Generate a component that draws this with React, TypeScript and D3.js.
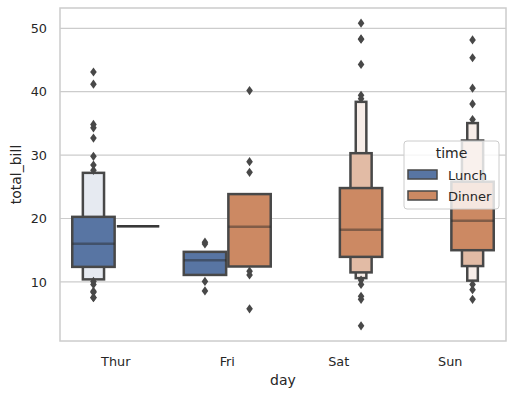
import * as d3 from 'd3';

const days = ["Thur", "Fri", "Sat", "Sun"];
const times = ["Lunch", "Dinner"];
const yTicks = [10, 20, 30, 40, 50];

// one entry per drawn box group
const groupDays = ["Thur", "Thur", "Fri", "Fri", "Sat", "Sun"];
const groupTimes = ["Lunch", "Dinner", "Lunch", "Dinner", "Dinner", "Dinner"];
const groupMedians = [16.0, 18.78, 13.42, 18.7, 18.24, 19.63];
// letter values [lower, upper], innermost (quartiles) first
const groupLevels: number[][][] = [
    [[12.37, 20.26], [10.4, 27.2]],
    [[18.78, 18.78]],
    [[11.1, 14.74]],
    [[12.43, 23.85]],
    [[13.95, 24.8], [11.5, 30.3], [10.6, 38.4]],
    [[15.0, 25.8], [12.5, 32.3], [10.2, 35.05]],
];
const groupOutliers: number[][] = [
    [43.11, 41.19, 34.83, 34.3, 32.68, 29.8, 28.44, 27.6, 10.07, 9.6, 8.52, 8.35, 7.56, 7.51],
    [],
    [16.27, 15.98, 10.07, 8.58],
    [40.17, 28.97, 27.28, 11.7, 11.1, 5.75],
    [50.81, 48.33, 48.27, 44.3, 39.42, 38.9, 10.29, 9.6, 7.74, 7.25, 3.07],
    [48.17, 45.35, 40.55, 38.07, 35.6, 9.6, 8.77, 7.25],
];

const baseColors = ["#5875a3", "#cc8963"];
const gray = "#484848";
const textColor = "#262626";

const App = () => {
    const width = 514, height = 396;
    const left = 60, right = 506, top = 8, bottom = 341;

    const x = d3.scaleBand<string>().domain(days).range([left, right]).padding(0);
    const y = d3.scaleLinear().domain([0.68, 53.2]).range([bottom, top]);
    const hueX = d3.scaleBand<string>().domain(times).range([-0.4, 0.4]);

    const bw = x.bandwidth();
    const boxW = bw * 0.4 * 0.95;

    const groups = groupDays.map((day, i) => {
        const cx = (x(day) as number) + bw / 2 + ((hueX(groupTimes[i]) as number) + hueX.bandwidth() / 2) * bw;
        const base = baseColors[times.indexOf(groupTimes[i])];
        const levels = groupLevels[i];
        const n = levels.length;
        const boxes = levels.map((lv, j) => {
            const t = n > 1 ? 0.85 * j / (n - 1) : 0;
            return {
                x: cx - boxW / Math.pow(2, j) / 2,
                w: boxW / Math.pow(2, j),
                y0: y(lv[1]),
                y1: y(lv[0]),
                fill: d3.interpolateRgb(base, "#ffffff")(t),
            };
        }).reverse();
        return { cx, boxes, median: y(groupMedians[i]), outliers: groupOutliers[i].map(v => y(v)) };
    });

    const diamond = (cx: number, cy: number) =>
        `M${cx},${cy - 4.6}L${cx + 3.3},${cy}L${cx},${cy + 4.6}L${cx - 3.3},${cy}Z`;

    return (
        <svg width={width} height={height} style={{ position: 'absolute', left: 0, top: 0, fontFamily: 'DejaVu Sans' }}>
            <rect x={0} y={0} width={width} height={height} fill="white" />
            {yTicks.map(t => (
                <g key={t}>
                    <line x1={left} x2={right} y1={y(t)} y2={y(t)} stroke="#cccccc" strokeWidth={1.2} />
                    <text x={47} y={y(t)} dy="0.36em" textAnchor="end" fontSize={12.8} fill={textColor}>{t}</text>
                </g>
            ))}
            <rect x={left} y={top} width={right - left} height={bottom - top} fill="none" stroke="#cccccc" strokeWidth={1.5} />
            {days.map(d => (
                <text key={d} x={(x(d) as number) + bw / 2} y={365.5} textAnchor="middle" fontSize={12.8} fill={textColor}>{d}</text>
            ))}
            <text x={(left + right) / 2} y={385} textAnchor="middle" fontSize={14} fill={textColor}>day</text>
            <text transform={`translate(21,${(top + bottom) / 2}) rotate(-90)`} textAnchor="middle" fontSize={14} fill={textColor}>total_bill</text>

            {groups.map((g, i) => (
                <g key={i}>
                    {g.boxes.map((b, j) => b.y1 - b.y0 > 0.5 ? (
                        <rect key={j} x={b.x} y={b.y0} width={b.w} height={b.y1 - b.y0}
                            fill={b.fill} stroke={gray} strokeWidth={2.5} />
                    ) : (
                        <line key={j} x1={b.x} x2={b.x + b.w} y1={b.y0} y2={b.y0} stroke={gray} strokeWidth={2.5} />
                    ))}
                    <line x1={g.cx - boxW / 2} x2={g.cx + boxW / 2} y1={g.median} y2={g.median}
                        stroke="#262626" strokeOpacity={0.45} strokeWidth={2.5} />
                    {g.outliers.map((oy, k) => (
                        <path key={k} d={diamond(g.cx, oy)} fill={gray} />
                    ))}
                </g>
            ))}

            <g>
                <rect x={404} y={141} width={95} height={68} rx={3} fill="white" fillOpacity={0.8} stroke="#cccccc" strokeWidth={1} />
                <text x={451.5} y={158} textAnchor="middle" fontSize={14} fill={textColor}>time</text>
                {times.map((t, i) => (
                    <g key={t}>
                        <rect x={408} y={170 + i * 21} width={29} height={9} fill={baseColors[i]} stroke={gray} strokeWidth={1.5} />
                        <text x={448} y={179.5 + i * 21} fontSize={13} fill={textColor}>{t}</text>
                    </g>
                ))}
            </g>
        </svg>
    );
};

export default App;
